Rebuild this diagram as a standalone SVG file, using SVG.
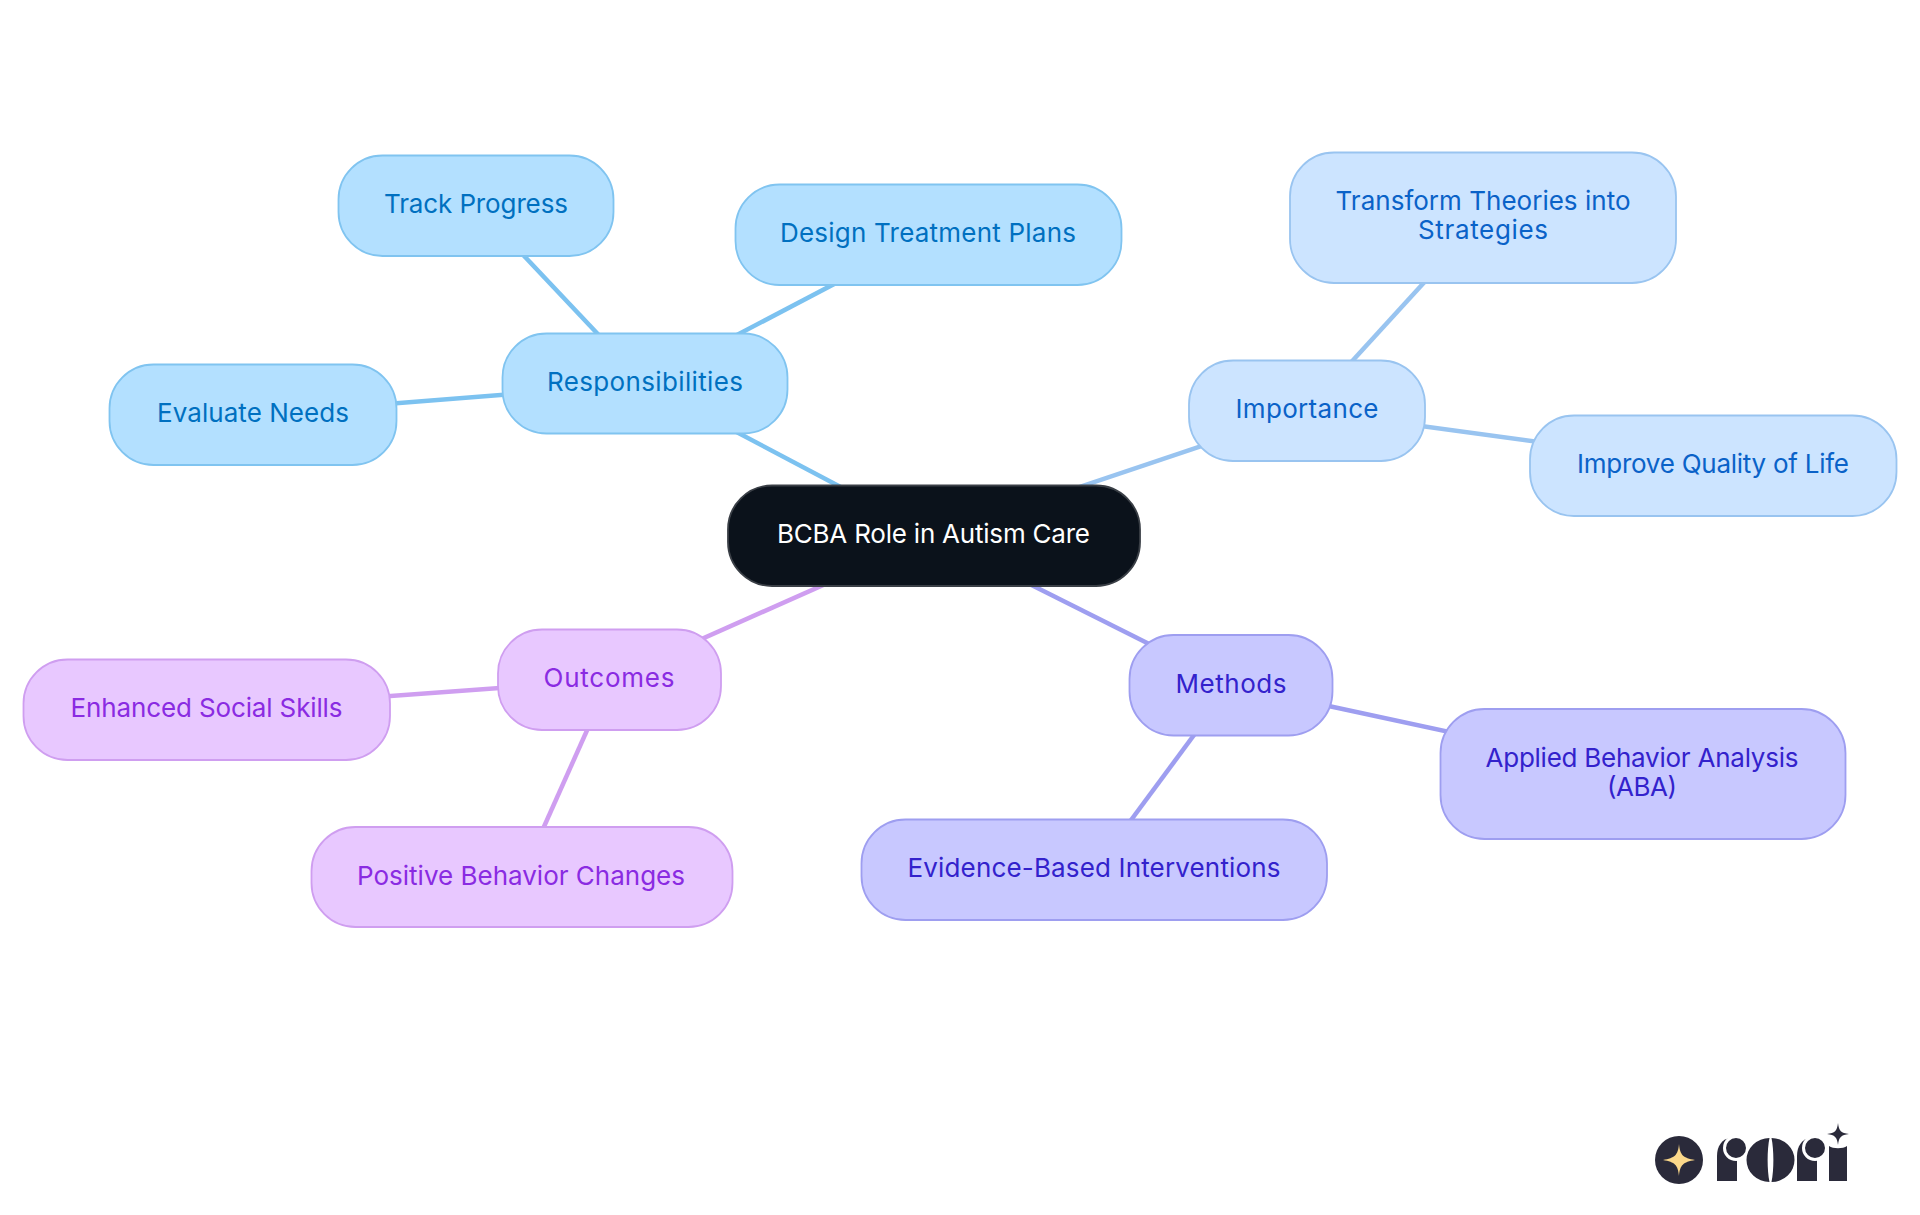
<svg xmlns="http://www.w3.org/2000/svg" width="1920" height="1215" viewBox="0 0 1920 1215">
<style>
text{font-family:"Inter","Noto Sans","Liberation Sans",sans-serif;font-size:26px;text-anchor:middle}
rect{stroke-width:1.8}
line{stroke-width:4.5;fill:none}
.a rect{fill:#b3e0ff;stroke:#80c4f0}.a text{fill:#0070c0}
.b rect{fill:#cce4ff;stroke:#99c4f0}.b text{fill:#0a62c8}
.c rect{fill:#c8c8ff;stroke:#9e9ef0}.c text{fill:#3322cc}
.d rect{fill:#e8c8ff;stroke:#cf9ef0}.d text{fill:#8a2be2}
.la{stroke:#7cc2f0}.lb{stroke:#99c4f0}.lc{stroke:#9e9ef0}.ld{stroke:#cf9ef0}
.logo{fill:#2a2a3a}
.cut{stroke:#fff;stroke-width:3}
</style>
<rect width="1920" height="1215" fill="#fff" style="stroke:none"/>
<g id="connectors">
<line class="la" x1="933.500" y1="536" x2="644.500" y2="383.500"/>
<line class="la" x1="644.500" y1="383.500" x2="928.500" y2="234.500"/>
<line class="la" x1="644.500" y1="383.500" x2="476.500" y2="205.500"/>
<line class="la" x1="644.500" y1="383.500" x2="253" y2="414.500"/>
<line class="lb" x1="933.500" y1="536" x2="1307" y2="410.500"/>
<line class="lb" x1="1307" y1="410.500" x2="1483.500" y2="217.500"/>
<line class="lb" x1="1307" y1="410.500" x2="1713" y2="465.500"/>
<line class="lc" x1="933.500" y1="536" x2="1231" y2="685"/>
<line class="lc" x1="1231" y1="685" x2="1642.500" y2="773.500"/>
<line class="lc" x1="1231" y1="685" x2="1094.500" y2="869.500"/>
<line class="ld" x1="933.500" y1="536" x2="609.500" y2="680"/>
<line class="ld" x1="609.500" y1="680" x2="206.500" y2="709.500"/>
<line class="ld" x1="609.500" y1="680" x2="521.500" y2="877"/>
</g>
<g id="root"><rect x="728" y="485.500" width="412" height="100.500" rx="44" fill="#0b121b" stroke="#3a3f46"/><text x="933.500" y="543" fill="#fff" textLength="313">BCBA Role in Autism Care</text></g>
<g id="responsibilities" class="a"><rect x="502.500" y="333.500" width="285" height="100" rx="44"/><text x="645" y="391" textLength="196">Responsibilities</text></g>
<g id="design" class="a"><rect x="735.500" y="184.500" width="386" height="100.500" rx="44"/><text x="928" y="242" textLength="296">Design Treatment Plans</text></g>
<g id="track" class="a"><rect x="338.500" y="155.500" width="275" height="100.500" rx="44"/><text x="476" y="213" textLength="184">Track Progress</text></g>
<g id="evaluate" class="a"><rect x="109.500" y="364.500" width="287" height="100.500" rx="44"/><text x="253" y="422" textLength="192">Evaluate Needs</text></g>
<g id="importance" class="b"><rect x="1189" y="360.500" width="236" height="100.500" rx="44"/><text x="1307" y="418" textLength="143">Importance</text></g>
<g id="transform" class="b"><rect x="1290" y="152.500" width="386" height="130.500" rx="44"/><text x="1483" y="210" textLength="295">Transform Theories into</text><text x="1483" y="239" textLength="130">Strategies</text></g>
<g id="improve" class="b"><rect x="1530" y="415.500" width="366.500" height="100.500" rx="44"/><text x="1713" y="473" textLength="272">Improve Quality of Life</text></g>
<g id="methods" class="c"><rect x="1129.500" y="635" width="203" height="100.500" rx="44"/><text x="1231" y="693" textLength="111">Methods</text></g>
<g id="aba" class="c"><rect x="1440.500" y="709" width="405" height="130" rx="44"/><text x="1642" y="767" textLength="313">Applied Behavior Analysis</text><text x="1642" y="796" textLength="70">(ABA)</text></g>
<g id="evidence" class="c"><rect x="861.500" y="819.500" width="465.500" height="100.500" rx="44"/><text x="1094" y="877" textLength="373">Evidence-Based Interventions</text></g>
<g id="outcomes" class="d"><rect x="498" y="629.500" width="223" height="100.500" rx="44"/><text x="609" y="687" textLength="131">Outcomes</text></g>
<g id="enhanced" class="d"><rect x="23.500" y="659.500" width="366.500" height="100.500" rx="44"/><text x="206.500" y="717" textLength="272">Enhanced Social Skills</text></g>
<g id="positive" class="d"><rect x="311.500" y="827" width="421" height="100" rx="44"/><text x="521" y="884.500" textLength="328">Positive Behavior Changes</text></g>
<g id="logo">
<circle class="logo" cx="1679" cy="1160" r="24"/>
<path d="M1679 1144C1680 1155 1683 1158 1695 1160C1683 1162 1680 1165 1679 1176C1678 1165 1675 1162 1663 1160C1675 1158 1678 1155 1679 1144Z" fill="#fbd88a"/>
<path class="logo" d="M1717 1181V1156C1717 1146 1722 1139 1730 1138H1737V1181Z"/>
<circle class="logo cut" cx="1736" cy="1148" r="11.500"/>
<path class="logo" d="M1769.500 1138A23 22 0 0 0 1769.500 1182C1767 1170 1767 1150 1769.500 1138ZM1771.500 1138C1774 1150 1774 1170 1771.500 1182A23 22 0 0 0 1771.500 1138Z"/>
<path class="logo" d="M1797 1181V1156C1797 1146 1802 1139 1810 1138H1817V1181Z"/>
<circle class="logo cut" cx="1815" cy="1148" r="11.500"/>
<path class="logo" d="M1829 1181V1146C1833 1149 1843 1149 1847 1146V1181Z"/>
<path class="logo" d="M1838 1123C1839 1131 1841 1133 1849 1134C1841 1135 1839 1137 1838 1145C1837 1137 1835 1135 1827 1134C1835 1133 1837 1131 1838 1123Z"/>
</g>
</svg>
